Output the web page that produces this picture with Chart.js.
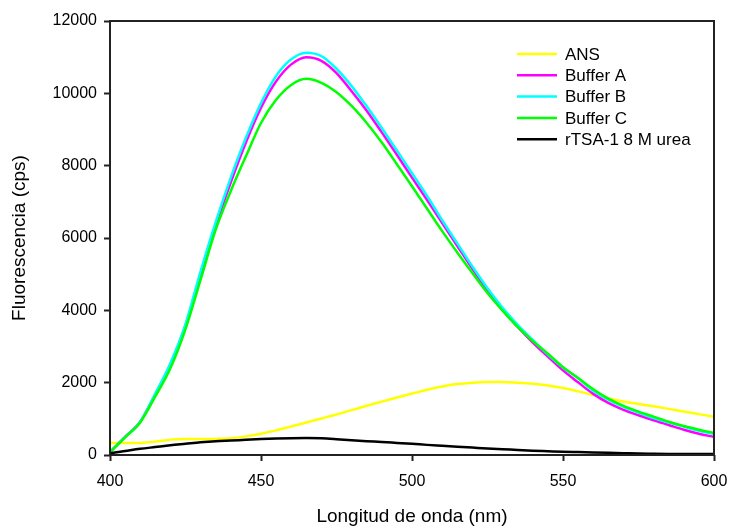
<!DOCTYPE html>
<html>
<head>
<meta charset="utf-8">
<script src="https://cdn.jsdelivr.net/npm/chart.js@4.4.1/dist/chart.umd.min.js"></script>
<style>
  html, body { margin: 0; padding: 0; background: #fff; }
  #wrap { width: 730px; height: 529px; position: relative; }
</style>
</head>
<body>
<div id="wrap"><canvas id="c"></canvas></div>
<script>
// Emission spectra, sampled every 5 nm from 400 to 600 nm
const wavelengths = [400,405,410,415,420,425,430,435,440,445,450,455,460,465,470,475,480,485,490,495,500,
                     505,510,515,520,525,530,535,540,545,550,555,560,565,570,575,580,585,590,595,600];

const ans      = [330,330,335,370,425,440,440,445,460,515,590,680,790,900,1010,1120,1240,1360,1475,1590,1700,
                  1805,1895,1960,2000,2020,2020,2000,1970,1920,1850,1760,1660,1565,1480,1410,1345,1275,1200,1130,1060];
const bufferA  = [80,500,920,1680,2500,3580,5000,6340,7540,8640,9600,10330,10800,11000,10900,10560,10060,9520,8920,8300,7670,
                  7050,6410,5780,5150,4550,4010,3540,3110,2720,2340,2010,1690,1440,1250,1100,960,830,700,590,500];
const bufferB  = [80,500,920,1700,2540,3620,5080,6440,7670,8770,9730,10480,10940,11125,11030,10680,10200,9640,9040,8420,7790,
                  7160,6490,5850,5210,4610,4070,3600,3180,2780,2420,2120,1780,1530,1330,1170,1020,900,780,670,580];
const bufferC  = [80,490,900,1620,2400,3480,4850,6230,7300,8260,9180,9820,10230,10400,10290,10030,9650,9180,8640,8040,7430,
                  6810,6190,5600,5030,4480,3990,3540,3150,2800,2430,2130,1820,1560,1360,1200,1060,920,800,700,610];
const urea     = [50,110,170,220,270,310,350,380,400,420,440,455,465,470,460,435,405,380,360,335,310,
                  280,255,230,205,180,160,140,120,105,90,80,70,60,50,40,35,30,25,25,25];

const seriesNames  = ['ANS', 'Buffer A', 'Buffer B', 'Buffer C', 'rTSA-1 8 M urea'];
const seriesValues = [ans, bufferA, bufferB, bufferC, urea];
const seriesColors = ['#ffff00', '#ff00ff', '#00ffff', '#00ff00', '#000000'];

const xTicks = [400, 450, 500, 550, 600];
const yTicks = [0, 2000, 4000, 6000, 8000, 10000, 12000];

const xTitle = 'Longitud de onda (nm)';
const yTitle = 'Fluorescencia (cps)';

const FONT = '"Liberation Sans", Arial, sans-serif';
const AXIS_COLOR = '#222';

const datasets = seriesNames.map((name, i) => ({
  label: name,
  data: wavelengths.map((w, k) => ({ x: w, y: seriesValues[i][k] })),
  borderColor: seriesColors[i],
  backgroundColor: seriesColors[i],
  borderWidth: 2.5,
  pointRadius: 0,
  fill: false,
  cubicInterpolationMode: 'monotone',
  order: seriesNames.length - i   // later series are painted on top
}));

// Frame, axis titles and in-plot legend
const decorations = {
  id: 'decorations',
  afterDraw(chart) {
    const { ctx, chartArea: a } = chart;
    ctx.save();
    ctx.strokeStyle = AXIS_COLOR;
    ctx.lineWidth = 2;
    ctx.strokeRect(a.left, a.top, a.right - a.left, a.bottom - a.top);

    ctx.fillStyle = '#000';
    ctx.font = '19px ' + FONT;
    ctx.textAlign = 'center';
    ctx.textBaseline = 'middle';
    ctx.fillText(xTitle, (a.left + a.right) / 2, 517);

    ctx.save();
    ctx.translate(20, (a.top + a.bottom) / 2);
    ctx.rotate(-Math.PI / 2);
    ctx.fillText(yTitle, 0, 0);
    ctx.restore();

    ctx.font = '17px ' + FONT;
    ctx.textAlign = 'left';
    seriesNames.forEach((name, i) => {
      const y = 54 + i * 21.3;
      ctx.strokeStyle = seriesColors[i];
      ctx.lineWidth = 2.5;
      ctx.beginPath();
      ctx.moveTo(517, y);
      ctx.lineTo(557, y);
      ctx.stroke();
      ctx.fillStyle = '#000';
      ctx.fillText(name, 565, y + 1);
    });
    ctx.restore();
  }
};

new Chart(document.getElementById('c'), {
  type: 'line',
  data: { datasets },
  options: {
    responsive: true,
    maintainAspectRatio: false,
    animation: false,
    layout: { padding: { top: 21, right: 16, left: 0, bottom: 0 } },
    plugins: { legend: { display: false }, tooltip: { enabled: false } },
    scales: {
      x: {
        type: 'linear',
        min: 400, max: 600,
        afterBuildTicks: s => { s.ticks = xTicks.map(v => ({ value: v })); },
        afterFit: s => { s.height = 74; s.paddingLeft = 0; s.paddingRight = 0; },
        grid: { drawOnChartArea: false, drawTicks: true, tickLength: 6, tickWidth: 2, tickColor: AXIS_COLOR },
        border: { display: false },
        ticks: { color: '#000', font: { family: FONT, size: 16 }, padding: 11, maxRotation: 0 }
      },
      y: {
        type: 'linear',
        min: 0, max: 12000,
        afterBuildTicks: s => { s.ticks = yTicks.map(v => ({ value: v })); },
        afterFit: s => { s.width = 110; s.paddingTop = 0; s.paddingBottom = 0; },
        grid: { drawOnChartArea: false, drawTicks: true, tickLength: 6, tickWidth: 2, tickColor: AXIS_COLOR },
        border: { display: false },
        ticks: { color: '#000', font: { family: FONT, size: 16 }, padding: 7, callback: v => String(v) }
      }
    }
  },
  plugins: [decorations]
});
</script>
</body>
</html>
